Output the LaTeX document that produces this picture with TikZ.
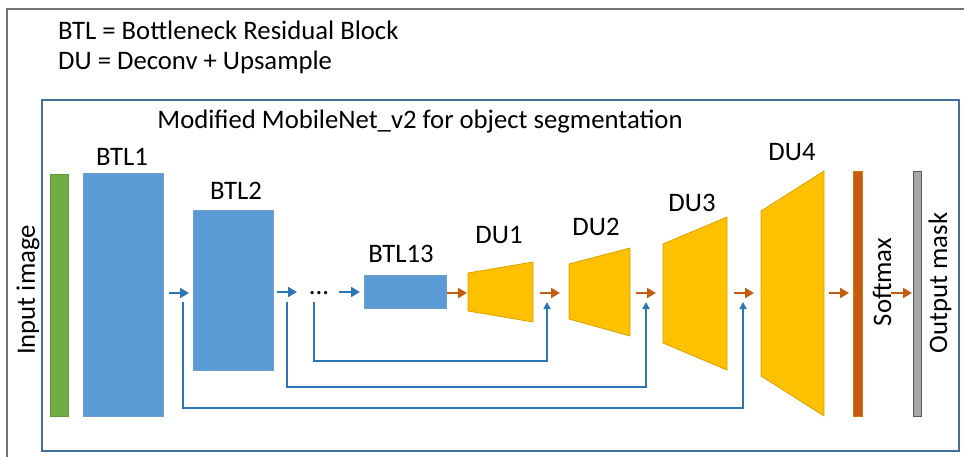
\documentclass[tikz,border=0pt]{standalone}
\usepackage{fontspec}
\setmainfont{Carlito}
\usetikzlibrary{arrows.meta}
\definecolor{frameblue}{HTML}{41719C}
\definecolor{btlfill}{HTML}{5B9BD5}
\definecolor{btlline}{HTML}{6E9FCF}
\definecolor{arrblue}{HTML}{2E75B6}
\definecolor{arrorange}{HTML}{C55A11}
\definecolor{dufill}{HTML}{FFC000}
\definecolor{duline}{HTML}{D9A300}
\definecolor{infill}{HTML}{70AD47}
\definecolor{inline}{HTML}{5E9A3A}
\definecolor{outfill}{HTML}{ABA7A7}
\tikzset{
  txt/.style={font=\fontsize{26.7}{30}\selectfont, inner sep=0pt},
  blk/.style={anchor=north west, inner sep=0pt, fill=btlfill, draw=btlline, line width=0.8pt},
  du/.style={fill=dufill, draw=duline, line width=0.8pt},
  barbox/.style={anchor=north west, inner sep=0pt, line width=0.8pt},
  fwdb/.style={draw=arrblue, line width=2pt, -{Triangle[length=9pt,width=10pt]}},
  fwdo/.style={draw=arrorange, line width=2pt, -{Triangle[length=9pt,width=10pt]}},
  skip/.style={draw=arrblue, line width=1.6pt, -{Triangle[length=7pt,width=7pt]}}
}
\begin{document}
\begin{tikzpicture}[x=1pt,y=-1pt]
\useasboundingbox (0,0) rectangle (964,457);
% outer gray frame
\draw[draw=gray!90!black, line width=1.4pt] (7,457) -- (7,9) -- (964,9);
% legend
\node[txt, anchor=west] (leg1) at (58,30) {BTL = Bottleneck Residual Block};
\node[txt, anchor=west] (leg2) at (58,62) {DU = Deconv + Upsample};
% inner blue frame
\draw[draw=frameblue, line width=2pt] (42,100) rectangle (959,451);
\node[txt] (title) at (420,122) {Modified MobileNet\_v2 for object segmentation};
% input
\node[barbox, fill=infill, draw=inline, minimum width=18pt, minimum height=242pt] (inp) at (50,174) {};
\node[txt, rotate=90] (inplab) at (28,290) {Input image};
% BTL blocks
\node[blk, minimum width=80pt, minimum height=243pt] (btl1) at (83,173) {};
\node[txt] (btl1lab) at (122,157) {BTL1};
\node[blk, minimum width=80pt, minimum height=160pt] (btl2) at (193,210) {};
\node[txt] (btl2lab) at (236,191) {BTL2};
\node[txt] (dots) at (319,293) {...};
\node[blk, minimum width=82pt, minimum height=33pt] (btl13) at (364,275) {};
\node[txt] (btl13lab) at (401,254) {BTL13};
% DU trapezoids
\path[du] (468,273) -- (533,262) -- (533,322) -- (468,311) -- cycle;
\node[txt] (du1lab) at (499,235) {DU1};
\path[du] (569,264) -- (630,248) -- (630,336) -- (569,319) -- cycle;
\node[txt] (du2lab) at (596,227) {DU2};
\path[du] (663,244) -- (727,217) -- (727,370) -- (663,343) -- cycle;
\node[txt] (du3lab) at (692,203) {DU3};
\path[du] (761,211) -- (824,171) -- (824,416) -- (761,376) -- cycle;
\node[txt] (du4lab) at (792,152) {DU4};
% softmax and output
\node[barbox, fill=arrorange, draw=arrorange!80!yellow, minimum width=9pt, minimum height=245pt] (soft) at (853,171) {};
\node[txt, rotate=90] (softlab) at (882,282) {Softmax};
\node[barbox, fill=outfill, draw=black!65, minimum width=8pt, minimum height=245pt] (outm) at (913,171) {};
\node[txt, rotate=90] (outlab) at (940,283) {Output mask};
% arrow coordinates
\coordinate (a1s) at (169,293); \coordinate (a1e) at (189,293);
\coordinate (a2s) at (277,292); \coordinate (a2e) at (297,292);
\coordinate (a3s) at (339,292); \coordinate (a3e) at (360,292);
\coordinate (a4s) at (447,293); \coordinate (a4e) at (467,293);
\coordinate (a5s) at (540,293); \coordinate (a5e) at (560,293);
\coordinate (a6s) at (636,293); \coordinate (a6e) at (656,293);
\coordinate (a7s) at (734,293); \coordinate (a7e) at (754,293);
\coordinate (a8s) at (829,293); \coordinate (a8e) at (849,293);
\coordinate (a9s) at (891,293); \coordinate (a9e) at (912,293);
\draw[fwdb] (a1s) -- (a1e);
\draw[fwdb] (a2s) -- (a2e);
\draw[fwdb] (a3s) -- (a3e);
\draw[fwdo] (a4s) -- (a4e);
\draw[fwdo] (a5s) -- (a5e);
\draw[fwdo] (a6s) -- (a6e);
\draw[fwdo] (a7s) -- (a7e);
\draw[fwdo] (a8s) -- (a8e);
\draw[fwdo] (a9s) -- (a9e);
% skip connections
\coordinate (s1s) at (314,302); \coordinate (s1e) at (547,302);
\coordinate (s2s) at (287,302); \coordinate (s2e) at (646,302);
\coordinate (s3s) at (183,302); \coordinate (s3e) at (743,302);
\draw[skip] (s1s) -- (314,361) -- (547,361) -- (s1e);
\draw[skip] (s2s) -- (287,387) -- (646,387) -- (s2e);
\draw[skip] (s3s) -- (183,408) -- (743,408) -- (s3e);
\end{tikzpicture}
\end{document}
